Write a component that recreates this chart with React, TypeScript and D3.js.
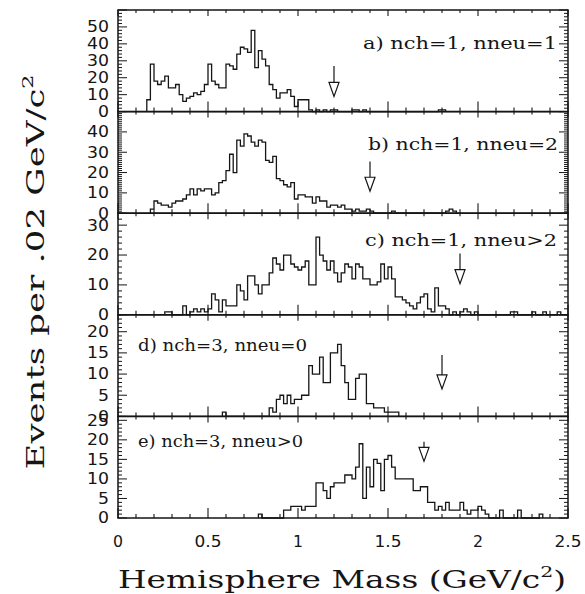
import React, { useRef, useEffect } from 'react';
import * as d3 from 'd3';

// bin width of every histogram (GeV/c^2)
const binWidth = 0.02;

const panelLabels = ['a) nch=1, nneu=1', 'b) nch=1, nneu=2', 'c) nch=1, nneu>2', 'd) nch=3, nneu=0', 'e) nch=3, nneu>0'];
const panelMax = [60, 50, 34, 24, 26];
const panelMajor = [10, 10, 10, 5, 5];
const panelMinor = [2, 1, 2, 1, 1];
const histStart = [0.16, 0.18, 0.26, 0.58, 0.78];

const countsA = [7, 28, 18, 16, 18, 21, 14, 14, 16, 10, 6, 8, 9, 11, 10, 12, 16, 28, 18, 16,
  14, 14, 28, 27, 25, 34, 38, 37, 35, 48, 26, 36, 31, 27, 16, 13, 8, 11, 11, 13,
  9, 3, 7, 7, 7, 1, 0, 1, 0, 1, 0, 1, 1, 0, 0, 0, 0, 1, 1, 0,
  1, 0, 0, 0, 0, 0, 0, 0, 0, 0, 0, 0, 0, 0, 0, 0, 0, 0, 0, 0, 0, 1, 1];
const countsB = [2, 6, 5, 4, 4, 3, 5, 6, 6, 7, 9, 12, 9, 12, 11, 12, 12, 9, 10, 15,
  16, 21, 29, 20, 36, 33, 39, 38, 35, 33, 36, 35, 26, 25, 28, 17, 16, 14, 13, 15,
  7, 9, 9, 8, 8, 5, 8, 6, 6, 3, 4, 4, 3, 4, 2, 2, 1, 2, 1, 1,
  2, 1, 0, 0, 0, 0, 0, 1, 0, 0, 0, 0, 0, 0, 0, 0, 0, 0, 0, 0, 0, 0, 1, 2, 1];
const countsC = [1, 1, 0, 0, 0, 3, 0, 1, 2, 1, 2, 1, 2, 7, 5, 1, 5, 3, 3, 3,
  10, 8, 5, 13, 13, 10, 7, 10, 10, 14, 19, 17, 15, 20, 20, 17, 16, 15, 16, 18,
  10, 10, 26, 20, 18, 15, 18, 14, 11, 14, 17, 16, 12, 17, 16, 12, 12, 10, 10, 11,
  17, 12, 16, 12, 6, 6, 5, 4, 3, 2, 4, 6, 7, 2, 1, 9, 3, 3, 2, 0,
  1, 0, 1, 2, 1, 0, 1, 0, 0, 0, 0, 0, 0, 0, 0, 0, 1, 1, 0, 0,
  0, 0, 1, 0, 0, 1, 0, 0, 0, 1];
const countsD = [1, 0, 0, 0, 0, 0, 0, 0, 0, 0, 0, 0, 0, 2, 1, 4, 5, 3, 5, 3,
  4, 4, 5, 5, 12, 10, 10, 14, 8, 8, 15, 15, 17, 12, 8, 4, 4, 9, 10, 10,
  3, 3, 2, 2, 2, 1, 1, 1, 1];
const countsE = [1, 0, 0, 0, 0, 0, 0, 2, 2, 3, 3, 3, 2, 3, 3, 3, 9, 9, 7, 5,
  8, 9, 9, 9, 11, 11, 10, 13, 19, 5, 13, 8, 15, 14, 7, 15, 16, 13, 10, 10,
  10, 10, 10, 7, 7, 8, 8, 4, 4, 2, 3, 2, 4, 2, 2, 2, 4, 2, 1, 2,
  2, 3, 2, 1, 0, 0, 0, 2, 0, 0, 0, 0, 2, 0, 0, 0, 0, 0, 1];
const panelCounts = [countsA, countsB, countsC, countsD, countsE];

// mass cut arrows: position and heights in event units
const cutMass = [1.2, 1.4, 1.9, 1.8, 1.7];
const arrowTip = [9, 10.8, 10.4, 6.5, 14.5];
const arrowTop = [27, 25.5, 20.5, 14.5, 19.5];

const xTickLabels = [0, 0.5, 1, 1.5, 2, 2.5];

const App = () => {
  const svgRef = useRef<SVGSVGElement>(null);

  useEffect(() => {
    const svg = d3.select(svgRef.current);
    svg.selectAll('*').remove();

    const width = 585, height = 594;
    const margin = { top: 10, right: 17, bottom: 76, left: 118 };
    const plotBottom = height - margin.bottom;
    const panelH = (plotBottom - margin.top) / 5;
    const ink = '#151515';

    const x = d3.scaleLinear().domain([0, 2.5]).range([margin.left, width - margin.right]);
    const xMinor = d3.range(0, 25.01, 1).map(d => d / 10);

    panelCounts.forEach((counts, i) => {
      const top = margin.top + i * panelH;
      const bottom = top + panelH;
      const y = d3.scaleLinear().domain([0, panelMax[i]]).range([bottom, top]);
      const g = svg.append('g');

      // histogram
      const s = histStart[i];
      const pts: [number, number][] = [[s, 0]];
      counts.forEach((c, k) => pts.push([s + k * binWidth, c]));
      pts.push([s + counts.length * binWidth, 0]);
      const line = d3.line<[number, number]>()
        .x(d => x(d[0]))
        .y(d => y(d[1]))
        .curve(d3.curveStepAfter);
      g.append('path')
        .attr('d', line(pts))
        .attr('fill', 'none')
        .attr('stroke', ink)
        .attr('stroke-width', 1.3);

      // x ticks, bottom and top, inward
      xMinor.forEach(v => {
        const major = Math.abs(v * 2 - Math.round(v * 2)) < 1e-6;
        g.append('line')
          .attr('x1', x(v)).attr('x2', x(v))
          .attr('y1', bottom).attr('y2', bottom - (major ? 10 : 4))
          .attr('stroke', ink).attr('stroke-width', 1.1);
        g.append('line')
          .attr('x1', x(v)).attr('x2', x(v))
          .attr('y1', top).attr('y2', top + (major ? 6 : 3))
          .attr('stroke', ink).attr('stroke-width', 1.1);
      });

      // y ticks on both sides, inward
      const yMinor = d3.range(0, panelMax[i] + 1e-6, panelMinor[i]);
      yMinor.forEach(v => {
        const major = v % panelMajor[i] === 0;
        const len = major ? 9 : 4;
        g.append('line')
          .attr('x1', x(0)).attr('x2', x(0) + len)
          .attr('y1', y(v)).attr('y2', y(v))
          .attr('stroke', ink).attr('stroke-width', 1);
        g.append('line')
          .attr('x1', x(2.5)).attr('x2', x(2.5) - len)
          .attr('y1', y(v)).attr('y2', y(v))
          .attr('stroke', ink).attr('stroke-width', 1);
      });

      // y tick labels
      d3.range(0, panelMax[i], panelMajor[i]).forEach(v => {
        const str = String(v);
        g.append('text')
          .attr('x', 109)
          .attr('y', y(v))
          .attr('dy', '0.36em')
          .attr('text-anchor', 'end')
          .attr('font-family', 'DejaVu Sans')
          .attr('font-size', 15)
          .attr('textLength', str.length * 11)
          .attr('lengthAdjust', 'spacingAndGlyphs')
          .attr('fill', ink)
          .text(str);
      });

      // frame
      g.append('rect')
        .attr('x', x(0)).attr('y', top)
        .attr('width', x(2.5) - x(0)).attr('height', panelH)
        .attr('fill', 'none').attr('stroke', ink).attr('stroke-width', 1.5);

      // cut arrow
      const ax = x(cutMass[i]);
      const tipY = y(arrowTip[i]);
      const headY = tipY - 14;
      g.append('line')
        .attr('x1', ax).attr('x2', ax)
        .attr('y1', y(arrowTop[i])).attr('y2', headY)
        .attr('stroke', ink).attr('stroke-width', 1.2);
      g.append('path')
        .attr('d', `M${ax - 5},${headY}L${ax + 5},${headY}L${ax},${tipY}Z`)
        .attr('fill', '#fff').attr('stroke', ink).attr('stroke-width', 1.2);

      // panel label
      const leftLabel = i >= 3;
      g.append('text')
        .attr('x', leftLabel ? 138 : [363, 368, 365][i])
        .attr('y', top + [39, 38, 33, 36, 31][i])
        .attr('font-family', 'DejaVu Serif')
        .attr('font-size', 16)
        .attr('textLength', [194, 190, 192, 169, 165][i])
        .attr('lengthAdjust', 'spacingAndGlyphs')
        .attr('fill', ink)
        .text(panelLabels[i]);
    });

    // x tick labels
    xTickLabels.forEach(v => {
      const str = String(v);
      svg.append('text')
        .attr('x', x(v))
        .attr('y', 547)
        .attr('text-anchor', 'middle')
        .attr('font-family', 'DejaVu Sans')
        .attr('font-size', 15)
        .attr('textLength', str.length === 1 ? 10 : 27)
        .attr('lengthAdjust', 'spacingAndGlyphs')
        .attr('fill', ink)
        .text(str);
    });

    // axis titles
    const xt = svg.append('text')
      .attr('x', 342)
      .attr('y', 588)
      .attr('text-anchor', 'middle')
      .attr('font-family', 'DejaVu Serif')
      .attr('font-size', 24)
      .attr('textLength', 448)
      .attr('lengthAdjust', 'spacingAndGlyphs')
      .attr('fill', ink);
    xt.append('tspan').text('Hemisphere Mass (GeV/c');
    xt.append('tspan').attr('font-size', 15).attr('dy', -11).text('2');
    xt.append('tspan').attr('dy', 11).text(')');

    const yt = svg.append('text')
      .attr('transform', 'translate(44,272) rotate(-90)')
      .attr('text-anchor', 'middle')
      .attr('font-family', 'DejaVu Serif')
      .attr('font-size', 24)
      .attr('textLength', 395)
      .attr('lengthAdjust', 'spacingAndGlyphs')
      .attr('fill', ink);
    yt.append('tspan').text('Events per .02 GeV/c');
    yt.append('tspan').attr('font-size', 15).attr('dy', -11).text('2');
  }, []);

  return (
    <svg ref={svgRef} width={585} height={594}
      style={{ position: 'absolute', left: 0, top: 0, background: '#fff' }} />
  );
};

export default App;
